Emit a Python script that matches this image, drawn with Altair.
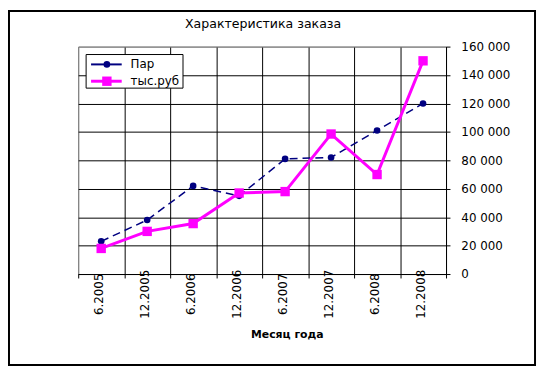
import altair as alt
import pandas as pd

months = ["6.2005", "12.2005", "6.2006", "12.2006", "6.2007", "12.2007", "6.2008", "12.2008"]
par = [23000, 38000, 62000, 55000, 81000, 82000, 101000, 120000]
rub = [18000, 30000, 35500, 57000, 58000, 98500, 70000, 150000]
series = ["Пар", "тыс.руб"]
colors = ["#000080", "#FF00FF"]
y_ticks = [0, 20000, 40000, 60000, 80000, 100000, 120000, 140000, 160000]
chart_title = "Характеристика заказа"
x_title = "Месяц года"

FONT = "DejaVu Sans"
df = pd.DataFrame({"month": months, "par": par, "rub": rub})

x_enc = alt.X(
    "month:N", sort=months,
    scale=alt.Scale(type="band", paddingInner=0, paddingOuter=0),
    axis=alt.Axis(
        title=x_title, orient="bottom", labelAngle=-90, labelAlign="center",
        labelBaseline="middle", labelPadding=16, labelOffset=-3, tickSize=4,
        tickBand="extent", grid=True,
        gridColor={"condition": {"test": "datum.extra", "value": "#808080"}, "value": "black"},
        titleX=211, titleY=61, titleAlign="center", titleBaseline="middle",
    ),
)

def y_enc(field):
    return alt.Y(
        f"{field}:Q",
        scale=alt.Scale(domain=[0, 160000], nice=False),
        axis=alt.Axis(
            title=None, orient="right", values=y_ticks,
            labelExpr="datum.value >= 1000 ? floor(datum.value/1000) + ' 000' : '0'",
            tickSize=4, labelPadding=11, grid=True,
            gridColor={"condition": {"test": "datum.value === 160000", "value": "#808080"}, "value": "black"},
        ),
    )

base = alt.Chart(df)
par_line = base.mark_line(color=colors[0], strokeWidth=1.5, strokeDash=[8, 5]).encode(x=x_enc, y=y_enc("par"))
par_pts = base.mark_point(color=colors[0], filled=True, shape="circle", size=45, opacity=1).encode(x=x_enc, y=y_enc("par"))
rub_line = base.mark_line(color=colors[1], strokeWidth=3).encode(x=x_enc, y=y_enc("rub"))
rub_pts = base.mark_point(color=colors[1], filled=True, shape="square", size=90, opacity=1).encode(x=x_enc, y=y_enc("rub"))

one = pd.DataFrame({"a": [0]})
frame = alt.Chart(one).mark_rect(fill=None, stroke="black", strokeWidth=2).encode(
    x=alt.value(-70), x2=alt.value(462), y=alt.value(-36), y2=alt.value(322))
title_txt = alt.Chart(pd.DataFrame({"t": [chart_title]})).mark_text(
    font=FONT, fontSize=12.7, color="black", align="center", baseline="middle").encode(
    x=alt.value(187), y=alt.value(-23), text="t:N")
leg_box = alt.Chart(one).mark_rect(fill="white", stroke="black", strokeWidth=1).encode(
    x=alt.value(8), x2=alt.value(106), y=alt.value(8), y2=alt.value(42))

leg_layers = []
leg_specs = [(series[0], colors[0], 2, "circle", 45), (series[1], colors[1], 3, "square", 90)]
for i, (name, col, sw, shp, sz) in enumerate(leg_specs):
    yy = 18 + 17 * i
    d = pd.DataFrame({"name": [name]})
    leg_layers.append(alt.Chart(d).mark_rule(color=col, strokeWidth=sw).encode(
        x=alt.value(13), x2=alt.value(44), y=alt.value(yy)))
    leg_layers.append(alt.Chart(d).mark_point(color=col, filled=True, shape=shp, size=sz, opacity=1).encode(
        x=alt.value(29), y=alt.value(yy)))
    leg_layers.append(alt.Chart(d).mark_text(align="left", baseline="middle", font=FONT, fontSize=12, color="black").encode(
        x=alt.value(53), y=alt.value(yy), text="name:N"))

chart = alt.layer(par_line, par_pts, rub_line, rub_pts, frame, title_txt, leg_box, *leg_layers).properties(
    width=372, height=230,
    autosize=alt.AutoSizeParams(type="none"),
    padding={"left": 71, "top": 37, "right": 92, "bottom": 94},
).configure_view(stroke="#808080", strokeWidth=1).configure_axis(
    labelFont=FONT, labelFontSize=12, labelColor="black", titleFont=FONT, titleFontSize=11,
    titleFontWeight="bold", titleColor="black", domainColor="black", tickColor="black",
    gridWidth=1, domainWidth=1, gridOpacity=1,
)

chart.save("out.html", embed_options={"renderer": "svg", "actions": False})
